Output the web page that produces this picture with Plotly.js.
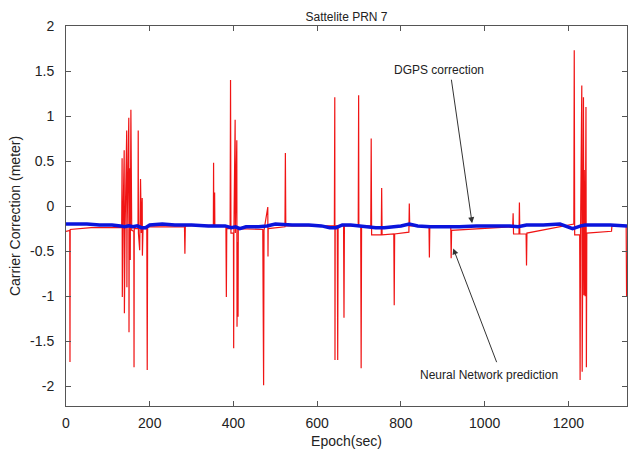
<!DOCTYPE html>
<html>
<head>
<meta charset="utf-8">
<script src="https://cdn.plot.ly/plotly-3.0.1.min.js"></script>
<style>html,body{margin:0;padding:0;background:#fff;}#chart{width:629px;height:454px;}</style>
</head>
<body>
<div id="chart"></div>
<script>
// DGPS correction (blue)
const dgpsEpoch = [0,20,50,80,110,130,140,150,160,170,180,190,200,230,260,300,340,380,395,405,415,430,460,480,500,540,580,610,630,645,660,680,700,720,740,760,780,800,820,840,870,900,940,980,1020,1060,1080,1100,1140,1180,1210,1220,1230,1240,1260,1300,1340];
const dgpsValue = [-0.20,-0.20,-0.20,-0.21,-0.21,-0.22,-0.23,-0.22,-0.23,-0.22,-0.24,-0.24,-0.21,-0.20,-0.21,-0.21,-0.22,-0.22,-0.24,-0.23,-0.25,-0.23,-0.23,-0.22,-0.20,-0.21,-0.21,-0.22,-0.24,-0.24,-0.21,-0.21,-0.22,-0.23,-0.24,-0.24,-0.23,-0.22,-0.20,-0.22,-0.23,-0.23,-0.23,-0.22,-0.22,-0.22,-0.23,-0.21,-0.21,-0.20,-0.25,-0.23,-0.22,-0.21,-0.21,-0.21,-0.22];

// Neural network prediction (red)
const nnEpoch = [0,9,9.5,10,60,130,
  133,134,134.5,136,139,139.5,141,145,145.5,146,150,150.5,151,153,153.5,155,155.5,157,
  162,162.5,163,172,172.5,173,176,178,180,182,182.5,184,193,194,195,
  250,283,284,285,352,352.5,353,355,355.5,
  382,383,384,392,393,393.5,394,400,400.5,401,404,404.5,408,408.5,409,410,411,411.5,
  470,472,473,482,482.5,483,523,524,525,
  641,642,642.5,643,648,649,650,663,664,665,
  698,699,699.5,704,705,706,728,729,730,753,754,755,783,784,785,819,820,821,
  867,868,869,919,920,921,1067,1068,1069,1082,1083,1084,1099,1100,1101,
  1213,1214,1215,1227,1228,1229,1232,1233,1234,1236,1237,1238,1240,1241,1242,1243,1244,
  1303,1304,1338,1339,1340];
const nnValue = [-0.28,-0.27,-1.73,-0.26,-0.24,-0.24,
  -0.24,0.53,-1.01,-0.25,0.62,-1.19,-0.30,0.84,-0.90,-0.25,0.98,-1.40,-0.30,0.42,-0.60,1.07,-0.20,-0.27,
  -0.28,-1.79,-0.25,-0.25,0.84,-0.30,-0.49,0.30,-0.30,0.09,-0.55,-0.25,-0.25,-1.82,-0.23,
  -0.23,-0.23,-0.53,-0.22,-0.21,0.48,-0.21,0.15,-0.21,
  -0.22,-1.01,-0.25,-0.25,1.40,0.51,-0.30,-0.30,-1.58,-0.30,0.96,-0.30,0.73,-1.34,-0.45,-0.40,-1.23,-0.25,
  -0.26,-1.99,-0.27,-0.01,-0.56,-0.25,-0.23,0.59,-0.22,
  -0.22,1.21,-1.71,-0.22,-0.22,-1.71,-0.22,-0.22,-1.24,-0.22,
  -0.22,1.23,-0.22,-0.22,-1.80,-0.22,-0.22,0.75,-0.32,-0.32,0.20,-0.32,-0.31,-1.10,-0.31,-0.29,0.03,-0.22,
  -0.22,-0.57,-0.22,-0.22,-0.58,-0.27,-0.23,-0.08,-0.31,-0.31,0.04,-0.31,-0.31,-0.66,-0.30,
  -0.20,1.73,-0.32,-0.32,-1.93,-0.32,1.34,-1.84,-0.30,1.21,-0.99,0.40,-1.00,0.30,1.10,-1.79,-0.30,
  -0.28,-0.22,-0.22,-1.01,-0.90];

const xTickVals = [0,200,400,600,800,1000,1200];
const xTickText = ['0','200','400','600','800','1000','1200'];
const yTickVals = [2,1.5,1,0.5,0,-0.5,-1,-1.5,-2];
const yTickText = ['2','1.5','1','0.5','0','-0.5','-1','-1.5','-2'];

const fontFam = 'Liberation Sans Narrow, Liberation Sans, Arial, sans-serif';

const traces = [
  {x: nnEpoch, y: nnValue, type: 'scatter', mode: 'lines',
   line: {color: 'rgb(240,20,20)', width: 1.2}, hoverinfo: 'skip'},
  {x: dgpsEpoch, y: dgpsValue, type: 'scatter', mode: 'lines',
   line: {color: 'rgb(10,20,220)', width: 3.5}, hoverinfo: 'skip'}
];

const axisCommon = {
  showgrid: false, zeroline: false, showline: true, linecolor: '#555', linewidth: 1,
  mirror: 'ticks', ticks: 'inside', ticklen: 5, tickcolor: '#555',
  tickfont: {family: fontFam, size: 14, color: '#222'}
};

const layout = {
  width: 629, height: 454,
  margin: {l: 66, r: 2, t: 26, b: 48},
  paper_bgcolor: '#fff', plot_bgcolor: '#fff',
  showlegend: false,
  title: {text: 'Sattelite PRN 7', font: {family: fontFam, size: 12, color: '#222'},
          x: 0.5, xref: 'paper', y: 0.962, yref: 'container', yanchor: 'middle'},
  xaxis: Object.assign({}, axisCommon, {
    range: [0, 1340], tickvals: xTickVals, ticktext: xTickText, ticklabelstandoff: 4,
    title: {text: 'Epoch(sec)', font: {family: fontFam, size: 14, color: '#222'}, standoff: 6}
  }),
  yaxis: Object.assign({}, axisCommon, {
    range: [-2.22, 2], tickvals: yTickVals, ticktext: yTickText, ticklabelstandoff: 8,
    title: {text: 'Carrier Correction (meter)', font: {family: fontFam, size: 14, color: '#222'}, standoff: 6}
  }),
  annotations: [
    {x: 892, y: 1.51, xref: 'x', yref: 'y', text: 'DGPS correction', showarrow: false,
     font: {family: fontFam, size: 12, color: '#222'}},
    {x: 970, y: -0.19, xref: 'x', yref: 'y', ax: 920, ay: 1.42, axref: 'x', ayref: 'y',
     text: '', showarrow: true, arrowhead: 2, arrowsize: 1.2, arrowwidth: 1, arrowcolor: '#333'},
    {x: 1011, y: -1.88, xref: 'x', yref: 'y', text: 'Neural Network prediction', showarrow: false,
     font: {family: fontFam, size: 12, color: '#222'}},
    {x: 925, y: -0.47, xref: 'x', yref: 'y', ax: 1030, ay: -1.75, axref: 'x', ayref: 'y',
     text: '', showarrow: true, arrowhead: 2, arrowsize: 1.2, arrowwidth: 1, arrowcolor: '#333'}
  ]
};

Plotly.newPlot('chart', traces, layout, {staticPlot: true, displayModeBar: false});
</script>
</body>
</html>
